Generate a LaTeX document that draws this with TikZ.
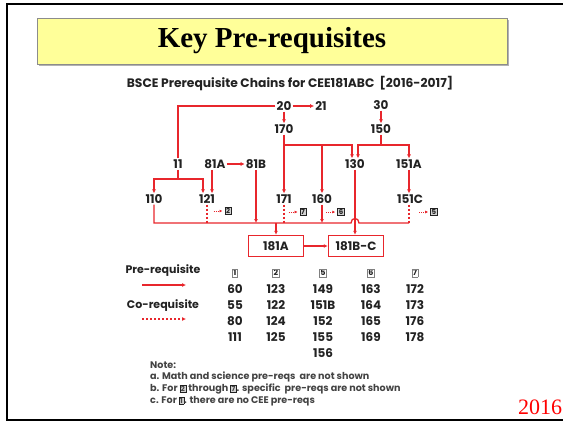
\documentclass[tikz,border=0pt]{standalone}
\usepackage{fontspec}
\setmainfont{Liberation Serif}
\setsansfont{Poppins}[Numbers=Monospaced]
\usetikzlibrary{arrows.meta,positioning}
\definecolor{reqred}{HTML}{E8262C}
\definecolor{ink}{HTML}{222222}
\definecolor{padyellow}{HTML}{FFFF99}
\definecolor{padedge}{HTML}{8C8C8C}
\setlength{\fboxsep}{0.8pt}
\setlength{\fboxrule}{0.5pt}
\newcommand{\numtag}[1]{\fcolorbox{ink}{gray!35}{\fontsize{7}{7}\selectfont #1}}
\newcommand{\numhead}[1]{\fcolorbox{gray}{white}{\fontsize{8}{8}\selectfont #1}}

\begin{document}
\begin{tikzpicture}[
    x=1pt, y=-1pt,
    >={Latex[length=4pt,width=4pt]},
    course/.style={font=\sffamily\bfseries\fontsize{12}{12}\selectfont, text=ink, inner sep=1pt},
    target/.style={course, draw=reqred, line width=1.5pt, minimum width=55pt, minimum height=21pt},
    tag/.style={inner sep=0pt, font=\sffamily\bfseries, text=ink},
    link/.style={draw=reqred, line width=1.3pt},
    prereq/.style={link, ->},
    coreq/.style={link, dash pattern=on 2pt off 2pt},
    hint/.style={draw=reqred, line width=0.8pt, dash pattern=on 1pt off 1pt, -{Latex[length=3pt,width=3pt]}},
    legend/.style={font=\sffamily\bfseries\fontsize{11}{11}\selectfont, text=ink},
    note/.style={font=\sffamily\bfseries\fontsize{9.6}{9.6}\selectfont, text=ink!85, anchor=west, inner sep=0pt},
]
    \useasboundingbox (0,0) rectangle (563,424);
    \draw[line width=2.4pt] (7,4) rectangle (572,420);

    % =====================================================================
    % TITLE
    % =====================================================================
    \fill[gray!60] (39,20) rectangle (509,66);
    \node[draw=padedge, fill=padyellow, minimum width=470pt, minimum height=46pt,
          font=\bfseries\fontsize{29}{29}\selectfont] (title) at (272,41) {Key Pre-requisites};
    \node[font=\sffamily\bfseries\fontsize{12.3}{12.3}\selectfont, text=ink] (sub) at (290,84)
        {BSCE Prerequisite Chains for CEE181ABC\ \ [2016-2017]};

    % =====================================================================
    % COURSES
    % =====================================================================
    \node[course] (n20) at (284,106) {20};
    \node[course] (n21) at (321,106) {21};
    \node[course] (n30) at (381,105) {30};
    \node[course] (n170) at (284,129) {170};
    \node[course] (n150) at (381,129) {150};

    \node[course] (n11) at (178,164) {11};
    \node[course] (n81A) at (215,164) {81A};
    \node[course] (n81B) at (256,164) {81B};
    \node[course] (n130) at (355,164) {130};
    \node[course] (n151A) at (409,164) {151A};

    \node[course] (n110) at (154,199) {110};
    \node[course] (n121) at (207,199) {121};
    \node[course] (n171) at (284,199) {171};
    \node[course] (n160) at (322,199) {160};
    \node[course] (n151C) at (410,199) {151C};

    \node[tag] (t2) at (228,211) {\numtag{2}};
    \node[tag] (t7) at (303,212) {\numtag{7}};
    \node[tag] (t6) at (341,212) {\numtag{6}};
    \node[tag] (t5) at (434,212) {\numtag{5}};

    \node[target] (b181A) at (276,246) {181A};
    \node[target] (b181BC) at (356,246) {181B-C};

    % =====================================================================
    % CHAINS
    % =====================================================================
    \draw[prereq] (n20) -- (n21);
    \draw[prereq] (n20) -- (n170);
    \draw[prereq] (n30) -- (n150);
    \draw[prereq] (n81A) -- (n81B);
    \draw[link] (n20.west) -| (n11.north);

    \coordinate (f11) at (178,179);
    \draw[link] (n11.south) -- (f11);
    \draw[prereq] (f11) -| (n110.north);
    \draw[prereq] (f11) -| ([xshift=-4pt]n121.north);
    \draw[prereq] ([xshift=-3pt]n81A.south) -- ([xshift=-3pt]n81A.south |- n121.north);

    \coordinate (f170) at (284,145);
    \draw[prereq] (n170.south) -- (n171.north);
    \draw[prereq] (f170) -| ([xshift=-3pt]n130.north);
    \draw[prereq] (f170 -| n160) -- (n160.north);

    \coordinate (f150) at (381,145);
    \draw[link] (n150.south) -- (f150);
    \draw[prereq] (f150) -| ([xshift=3pt]n130.north);
    \draw[prereq] (f150) -| (n151A.north);
    \draw[prereq] (n151A) -- (n151A |- n151C.north);

    % bus into 181A, hopping over the 130 line
    \coordinate (bus) at (276,223);
    \draw[link] (n110.south) |- ([xshift=-4pt]bus -| n130)
        .. controls +(0,-6) and +(0,-6) .. ++(8,0) -- (bus -| n151A);
    \draw[coreq] (n151A |- n151C.south) -- (bus -| n151A);
    \draw[coreq] (n121.south) -- (n121.south |- bus);
    \draw[coreq] (n171.south) -- (n171.south |- bus);
    \draw[prereq] (n160.south) -- (n160.south |- bus);
    \draw[prereq] (n81B.south) -- (n81B.south |- bus);
    \draw[prereq] (bus) -- (b181A.north);
    \draw[prereq] (n130.south) -- (n130.south |- b181BC.north);
    \draw[prereq] (b181A) -- (b181BC);

    \draw[hint] ([xshift=-11pt]t2.west) -- ([xshift=-2pt]t2.west);
    \draw[hint] ([xshift=-11pt]t7.west) -- ([xshift=-2pt]t7.west);
    \draw[hint] ([xshift=-11pt]t6.west) -- ([xshift=-2pt]t6.west);
    \draw[hint] ([xshift=-11pt]t5.west) -- ([xshift=-2pt]t5.west);

    % =====================================================================
    % LEGEND AND GROUPS
    % =====================================================================
    \node[legend] (lpre) at (163,271) {Pre-requisite};
    \coordinate (lpreA) at (142,285);
    \coordinate (lpreB) at (186,285);
    \draw[prereq] (lpreA) -- (lpreB);
    \node[legend] (lco) at (163,306) {Co-requisite};
    \coordinate (lcoA) at (142,319);
    \coordinate (lcoB) at (186,319);
    \draw[coreq, ->] (lcoA) -- (lcoB);

    \node[tag] (h1) at (235,273) {\numhead{1}};
    \node[tag] (h2) at (276,273) {\numhead{2}};
    \node[tag] (h5) at (323,273) {\numhead{5}};
    \node[tag] (h6) at (371,273) {\numhead{6}};
    \node[tag] (h7) at (415,273) {\numhead{7}};
    \foreach \v [count=\i] in {60,55,80,111}
        \node[course] (g1r\i) at (235,{273+16*\i}) {\v};
    \foreach \v [count=\i] in {123,122,124,125}
        \node[course] (g2r\i) at (276,{273+16*\i}) {\v};
    \foreach \v [count=\i] in {149,151B,152,155,156}
        \node[course] (g5r\i) at (323,{273+16*\i}) {\v};
    \foreach \v [count=\i] in {163,164,165,169}
        \node[course] (g6r\i) at (371,{273+16*\i}) {\v};
    \foreach \v [count=\i] in {172,173,176,178}
        \node[course] (g7r\i) at (415,{273+16*\i}) {\v};

    % notes
    \node[note] (note0) at (150,365) {Note:};
    \node[note] (note1) at (150,377) {a. Math and science pre-reqs\ \ are not shown};
    \node[note] (note2) at (150,389) {b. For \numtag{2} through \numtag{7}. specific\ \ pre-reqs are not shown};
    \node[note] (note3) at (150,401) {c. For \numtag{1}. there are no CEE pre-reqs};

    \node[text=red, font=\fontsize{22}{22}\selectfont] (year) at (540,407) {2016};
\end{tikzpicture}
\end{document}
